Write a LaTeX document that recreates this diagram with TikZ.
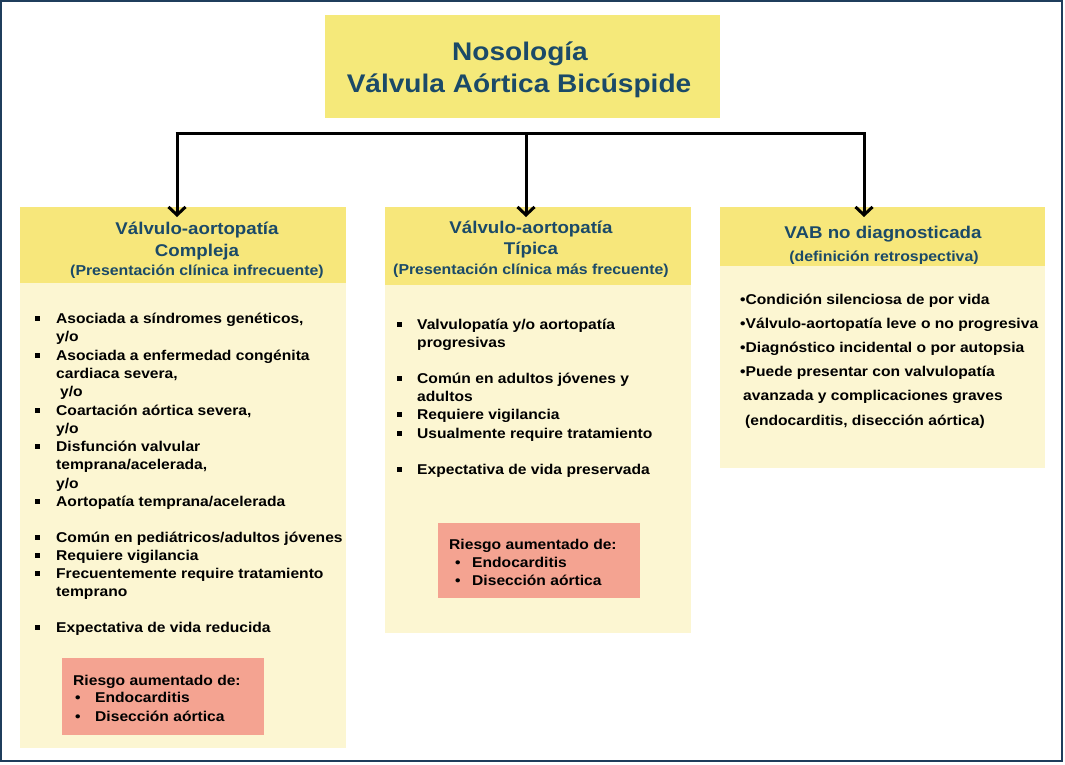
\documentclass[tikz,border=0pt]{standalone}
\usepackage{fontspec}
\setmainfont{Liberation Sans}[FakeStretch=1.1]
\usetikzlibrary{arrows.meta}
\definecolor{frameblue}{RGB}{31,61,92}
\definecolor{titleyellow}{RGB}{245,233,122}
\definecolor{headyellow}{RGB}{247,231,123}
\definecolor{bodyyellow}{RGB}{252,246,210}
\definecolor{riskred}{RGB}{244,163,145}
\definecolor{tealtext}{RGB}{27,74,104}
\tikzset{
  fillbox/.style={draw=none,inner sep=0pt,anchor=north west},
  bodytxt/.style={anchor=base west,inner sep=0pt,font=\fontsize{14.2}{17}\selectfont\bfseries},
  headtxt/.style={anchor=base,inner sep=0pt,text=tealtext,font=\fontsize{17}{20}\selectfont\bfseries},
  subtxt/.style={anchor=base,inner sep=0pt,text=tealtext,font=\fontsize{14.4}{17}\selectfont\bfseries},
  sqbullet/.style={fill=black,inner sep=0pt,minimum size=5pt,draw=none},
  conn/.style={line width=3pt,black},
  arr/.style={conn,-{Straight Barb[length=8pt,width=17pt,line width=3pt]}}
}
\begin{document}
\begin{tikzpicture}[x=1pt,y=-1pt]
\useasboundingbox (0,0) rectangle (1065,764);
\fill[white] (0,0) rectangle (1065,764);
\draw[frameblue,line width=1.5pt] (1,1) rectangle (1062,761);

% title
\node[fillbox,fill=titleyellow,minimum width=395pt,minimum height=103pt] (title) at (325,15) {};
\node[headtxt,font=\fontsize{25.5}{30}\selectfont\bfseries] (t1) at (520,60.5) {Nosología};
\node[headtxt,font=\fontsize{25.5}{30}\selectfont\bfseries] (t2) at (519,92) {Válvula Aórtica Bicúspide};

% boxes
\node[fillbox,fill=bodyyellow,minimum width=326pt,minimum height=541pt] (L) at (20,207) {};
\node[fillbox,fill=headyellow,minimum width=326pt,minimum height=76pt] (LH) at (20,207) {};
\node[fillbox,fill=bodyyellow,minimum width=306pt,minimum height=426pt] (M) at (385,207) {};
\node[fillbox,fill=headyellow,minimum width=306pt,minimum height=78pt] (MH) at (385,207) {};
\node[fillbox,fill=bodyyellow,minimum width=325pt,minimum height=261pt] (R) at (720,207) {};
\node[fillbox,fill=headyellow,minimum width=325pt,minimum height=59pt] (RH) at (720,207) {};

% connectors
\coordinate (hl) at (177,133);
\coordinate (hm) at (526,133);
\coordinate (hr) at (864,133);
\draw[conn] ([xshift=-1.5pt]hl) -- ([xshift=1.5pt]hr);
\draw[arr] (hl) -- ([yshift=-10pt]hl |- L.north);
\draw[arr] (hm) -- ([yshift=-10pt]hm |- M.north);
\draw[arr] (hr) -- ([yshift=-10pt]hr |- R.north);

% left header
\node[headtxt] (lh1) at (197,234) {Válvulo-aortopatía};
\node[headtxt] (lh2) at (197,256) {Compleja};
\node[subtxt] (lh3) at (197,275) {(Presentación clínica infrecuente)};

% left body
\foreach \y/\t/\b/\dx [count=\i] in {
 323.5/{Asociada a síndromes genéticos,}/1/0,
 341.8/{y/o}/0/0,
 360.1/{Asociada a enfermedad congénita}/1/0,
 378.4/{cardiaca severa,}/0/0,
 396.7/{y/o}/0/4,
 415/{Coartación aórtica severa,}/1/0,
 433.3/{y/o}/0/0,
 451.6/{Disfunción valvular}/1/0,
 469.9/{temprana/acelerada,}/0/0,
 488.2/{y/o}/0/0,
 506.5/{Aortopatía temprana/acelerada}/1/0,
 542.5/{Común en pediátricos/adultos jóvenes}/1/0,
 560.5/{Requiere vigilancia}/1/0,
 578.5/{Frecuentemente require tratamiento}/1/0,
 596.5/{temprano}/0/0,
 632/{Expectativa de vida reducida}/1/0}{
  \node[bodytxt] (lb\i) at (56+\dx,\y) {\t};
  \ifnum\b=1 \node[sqbullet] (lq\i) at (37,\y-5) {};\fi
}

% left risk box
\node[fillbox,fill=riskred,minimum width=202pt,minimum height=77pt] (LR) at (62,658) {};
\node[bodytxt] (lr1) at (73,685) {Riesgo aumentado de:};
\node[bodytxt] (lr2) at (75,702.5) {•};
\node[bodytxt] (lr3) at (95,702.5) {Endocarditis};
\node[bodytxt] (lr4) at (75,721) {•};
\node[bodytxt] (lr5) at (95,721) {Disección aórtica};

% middle header
\node[headtxt] (mh1) at (531,233) {Válvulo-aortopatía};
\node[headtxt] (mh2) at (531,254) {Típica};
\node[subtxt] (mh3) at (531,274) {(Presentación clínica más frecuente)};

% middle body
\foreach \y/\t/\b [count=\i] in {
 329/{Valvulopatía y/o aortopatía}/1,
 347/{progresivas}/0,
 383/{Común en adultos jóvenes y}/1,
 401/{adultos}/0,
 419/{Requiere vigilancia}/1,
 438/{Usualmente require tratamiento}/1,
 474/{Expectativa de vida preservada}/1}{
  \node[bodytxt] (mb\i) at (417,\y) {\t};
  \ifnum\b=1 \node[sqbullet] (mq\i) at (399,\y-5) {};\fi
}

% middle risk box
\node[fillbox,fill=riskred,minimum width=202pt,minimum height=75pt] (MR) at (438,523) {};
\node[bodytxt] (mr1) at (449,549.5) {Riesgo aumentado de:};
\node[bodytxt] (mr2) at (455,567) {•};
\node[bodytxt] (mr3) at (472,567) {Endocarditis};
\node[bodytxt] (mr4) at (455,585) {•};
\node[bodytxt] (mr5) at (472,585) {Disección aórtica};

% right header
\node[headtxt] (rh1) at (883,238) {VAB no diagnosticada};
\node[subtxt] (rh2) at (884,261) {(definición retrospectiva)};

% right body
\node[bodytxt] (rb1) at (740,304) {•Condición silenciosa de por vida};
\node[bodytxt] (rb2) at (740,328) {•Válvulo-aortopatía leve o no progresiva};
\node[bodytxt] (rb3) at (740,352) {•Diagnóstico incidental o por autopsia};
\node[bodytxt] (rb4) at (740,376) {•Puede presentar con valvulopatía};
\node[bodytxt] (rb5) at (743,400) {avanzada y complicaciones graves};
\node[bodytxt] (rb6) at (745,425) {(endocarditis, disección aórtica)};
\end{tikzpicture}
\end{document}
